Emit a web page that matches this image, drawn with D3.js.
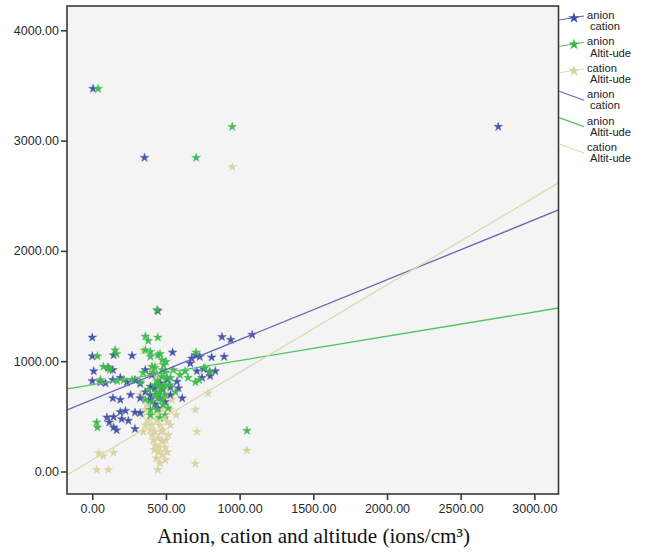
<!DOCTYPE html>
<html>
<head>
<meta charset="utf-8">
<style>
body { margin: 0; background: #fff; }
svg { display: block; }
</style>
</head>
<body>
<svg id="chart"></svg>
<script src="https://cdn.jsdelivr.net/npm/d3@7/dist/d3.min.js"></script>
<script>

// tick values
var xTicks = [0, 500, 1000, 1500, 2000, 2500, 3000];
var yTicks = [0, 1000, 2000, 3000, 4000];

// anion vs cation (blue)
var anionCation = [
    [5, 3470], [355, 2845], [2755, 3125], [445, 1455], [0, 1215], [880, 1220], [940, 1195], [1085, 1240],
    [0, 1045], [145, 1055], [270, 1050], [545, 1080], [700, 1055], [675, 1025], [665, 980], [730, 1040],
    [810, 1035], [895, 1040], [10, 910], [110, 940], [140, 920], [710, 910], [755, 930], [795, 900],
    [835, 910], [745, 850], [800, 865], [0, 820], [55, 810], [90, 800], [140, 830], [190, 850],
    [235, 810], [290, 830], [325, 795], [395, 770], [575, 815], [585, 755], [460, 800], [510, 830],
    [425, 755], [360, 720], [140, 665], [190, 650], [260, 695], [325, 665], [395, 650], [530, 695],
    [610, 665], [460, 665], [495, 630], [425, 610], [225, 550], [290, 535], [325, 530], [100, 490],
    [145, 495], [200, 475], [245, 460], [115, 445], [145, 400], [165, 375], [290, 385], [190, 540],
    [445, 575], [395, 695], [475, 740], [360, 920], [405, 875], [530, 765]
];

// anion vs altitude (green)
var anionAltitude = [
    [40, 3470], [705, 2845], [950, 3125], [1050, 370], [440, 1465], [360, 1225], [380, 1185], [445, 1215],
    [35, 1045], [155, 1100], [165, 1065], [75, 950], [105, 945], [395, 1040], [445, 1055], [475, 1010],
    [500, 995], [405, 950], [415, 895], [445, 820], [505, 850], [475, 755], [705, 1080], [485, 965],
    [475, 920], [550, 920], [630, 910], [700, 810], [800, 900], [30, 445], [35, 400], [395, 560],
    [120, 920], [360, 1100], [395, 1085], [460, 1065], [270, 830], [325, 810], [170, 820], [215, 830],
    [425, 785], [460, 720], [495, 695], [445, 665], [405, 630], [480, 605], [440, 560], [515, 575],
    [395, 510], [460, 485], [360, 650], [380, 740], [530, 785], [565, 720], [595, 875], [650, 850],
    [765, 940], [725, 830], [345, 895], [425, 940], [495, 900], [530, 850], [55, 830], [495, 510],
    [425, 695], [475, 650], [455, 780], [470, 860], [435, 720], [490, 780]
];

// cation vs altitude (tan)
var cationAltitude = [
    [950, 2760], [700, 560], [710, 360], [1050, 190], [700, 70], [45, 165], [75, 140], [145, 170],
    [30, 15], [110, 15], [445, 15], [345, 1095], [785, 710], [425, 850], [460, 800], [395, 650],
    [360, 560], [380, 465], [405, 420], [440, 510], [475, 560], [495, 485], [460, 420], [425, 360],
    [480, 375], [510, 450], [450, 305], [475, 270], [425, 240], [495, 215], [450, 175], [475, 150],
    [435, 120], [495, 105], [460, 75], [415, 285], [515, 330], [530, 420], [395, 375], [360, 420],
    [340, 510], [500, 285], [455, 220], [470, 360], [440, 465], [490, 605], [530, 560], [325, 695],
    [375, 605], [515, 695], [540, 650], [425, 965], [395, 900], [570, 510], [345, 360], [420, 195],
    [510, 175], [405, 330]
];

// fitted lines: y = intercept + slope * x
var fitNames = ['anionCation', 'anionAltitude', 'cationAltitude'];
var fitIntercept = [651, 786, 104];
var fitSlope = [0.5436, 0.22, 0.794];

var legendLabels = [
    ['anion', 'cation'], ['anion', 'Altit-ude'], ['cation', 'Altit-ude'],
    ['anion', 'cation'], ['anion', 'Altit-ude'], ['cation', 'Altit-ude']
];

var starColors = ['#4150a6', '#3cb94b', '#d8d39d'];
var lineColors = ['#6166b3', '#52c35f', '#dcd9b1'];

var svg = d3.select('#chart')
    .attr('width', 647)
    .attr('height', 552);

var plot = {left: 67, right: 558.5, top: 6, bottom: 494};

var x = d3.scaleLinear()
    .domain([-171.5, 3164])
    .range([plot.left, plot.right]);

var y = d3.scaleLinear()
    .domain([-204, 4220])
    .range([plot.bottom, plot.top]);

svg.append('rect')
    .attr('x', plot.left)
    .attr('y', plot.top)
    .attr('width', plot.right - plot.left)
    .attr('height', plot.bottom - plot.top)
    .style('fill', '#f4f4f4');

svg.append('clipPath').attr('id', 'plot-clip')
    .append('rect')
    .attr('x', plot.left)
    .attr('y', plot.top)
    .attr('width', plot.right - plot.left)
    .attr('height', plot.bottom - plot.top);

var xAxis = svg.append('g')
    .attr('transform', 'translate(0,' + plot.bottom + ')')
    .call(d3.axisBottom(x).tickValues(xTicks).tickFormat(d3.format('.2f')).tickSize(6).tickSizeOuter(0));

var yAxis = svg.append('g')
    .attr('transform', 'translate(' + plot.left + ',0)')
    .call(d3.axisLeft(y).tickValues(yTicks).tickFormat(d3.format('.2f')).tickSize(6).tickSizeOuter(0));

[xAxis, yAxis].forEach(function(a){
    a.select('.domain').remove();
    a.selectAll('.tick line').style('stroke', '#3a3a3a').style('stroke-width', 1.6);
    a.selectAll('.tick text')
        .style('font-family', 'Liberation Sans, Arial, sans-serif')
        .style('font-size', '12.5px')
        .style('fill', '#2a2a2a');
});
xAxis.selectAll('.tick text').attr('dy', '1.05em').attr('y', 6);
yAxis.selectAll('.tick text').attr('x', -8);

var g = svg.append('g').attr('clip-path', 'url(#plot-clip)');

var star = d3.symbol().type(d3.symbolStar).size(24);

var allSeries = [cationAltitude, anionCation, anionAltitude];
var seriesColor = [starColors[2], starColors[0], starColors[1]];

allSeries.forEach(function(data, k){
    g.selectAll('.star' + k)
        .data(data)
        .enter().append('path')
        .attr('class', 'star' + k)
        .attr('d', star)
        .attr('transform', function(d){ return 'translate(' + x(d[0]) + ',' + y(d[1]) + ')'; })
        .style('fill', seriesColor[k])
        .style('stroke', seriesColor[k])
        .style('stroke-width', 0.4)
        .style('opacity', 0.95);
});

var fitLine = d3.line()
    .x(function(d){ return x(d[0]); })
    .y(function(d){ return y(d[1]); });

fitNames.forEach(function(name, k){
    var x0 = x.domain()[0], x1 = x.domain()[1];
    g.append('path')
        .datum([[x0, fitIntercept[k] + fitSlope[k] * x0], [x1, fitIntercept[k] + fitSlope[k] * x1]])
        .attr('d', fitLine)
        .style('fill', 'none')
        .style('stroke', lineColors[k])
        .style('stroke-width', 1.3);
});

// frame
svg.append('rect')
    .attr('x', plot.left)
    .attr('y', plot.top)
    .attr('width', plot.right - plot.left)
    .attr('height', plot.bottom - plot.top)
    .style('fill', 'none')
    .style('stroke', '#3a3a3a')
    .style('stroke-width', 1.6);

// legend, each label on two separate text lines
var legend = svg.append('g');
legendLabels.forEach(function(lab, i){
    var cy = 15 + 26.4 * i;
    var k = i % 3;
    if (i < 3) {
        legend.append('line')
            .attr('x1', 559).attr('y1', cy + 5)
            .attr('x2', 584).attr('y2', cy + 1)
            .style('stroke', lineColors[k]).style('stroke-width', 1);
        legend.append('path')
            .attr('d', d3.symbol().type(d3.symbolStar).size(40)())
            .attr('transform', 'translate(574,' + (cy + 3) + ')')
            .style('fill', starColors[k]);
    } else {
        legend.append('line')
            .attr('x1', 559).attr('y1', cy - 3)
            .attr('x2', 584).attr('y2', cy + 6)
            .style('stroke', lineColors[k]).style('stroke-width', 1.2);
    }
    [0, 1].forEach(function(j){
        legend.append('text')
            .attr('x', j === 0 ? 587 : 590)
            .attr('y', cy + 4 + j * 11.2)
            .style('font-family', 'Liberation Sans, Arial, sans-serif')
            .style('font-size', '11.2px')
            .style('fill', '#222')
            .text(lab[j]);
    });
});

// axis title
svg.append('text')
    .attr('x', 313.5)
    .attr('y', 543)
    .attr('text-anchor', 'middle')
    .attr('textLength', 313)
    .attr('lengthAdjust', 'spacingAndGlyphs')
    .style('font-family', 'Liberation Serif, Times New Roman, serif')
    .style('font-size', '21px')
    .style('fill', '#111')
    .text('Anion, cation and altitude (ions/cm³)');

</script>
</body>
</html>
